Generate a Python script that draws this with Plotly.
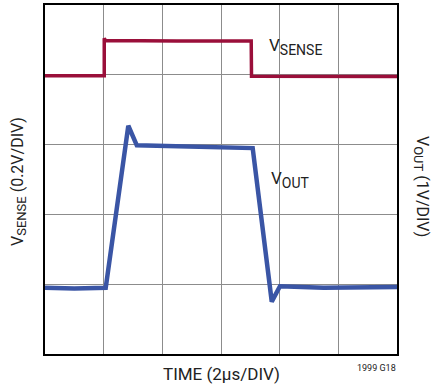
import plotly.graph_objects as go

# Time axis in microseconds (2 us/div, 6 divisions)
t_sense = [0.0, 2.02, 2.02, 2.06, 4.5, 7.03, 7.04, 9.0, 12.0]
v_sense = [0.797, 0.797, 0.905, 0.898, 0.897, 0.897, 0.796, 0.795, 0.795]

t_out = [0.0, 1.0, 2.07, 2.84, 3.13, 4.5, 6.0, 7.08, 7.73, 8.01, 9.5, 12.0]
v_out = [-0.05, -0.06, -0.05, 2.27, 1.99, 1.98, 1.97, 1.95, -0.25, -0.03, -0.05, -0.04]

x_range = [0, 12]
sense_range = [0, 1.0]   # 0.2 V/div, 5 div
out_range = [-1, 4]      # 1 V/div, 5 div

RED = "#9A0F3A"
BLUE = "#3A55A5"
FONT = "Roboto, Arial, sans-serif"
TXT = "#222"

W, H = 433, 389
L, R, T, B = 45, 36, 3, 35

fig = go.Figure()
fig.add_trace(go.Scatter(x=t_sense, y=v_sense, mode="lines",
                         line=dict(color=RED, width=3.5), yaxis="y"))
fig.add_trace(go.Scatter(x=t_out, y=v_out, mode="lines",
                         line=dict(color=BLUE, width=4.5), yaxis="y2"))

fig.update_layout(
    width=W, height=H,
    margin=dict(l=L, r=R, t=T, b=B),
    paper_bgcolor="white", plot_bgcolor="white",
    showlegend=False,
    font=dict(family=FONT, color=TXT),
    xaxis=dict(range=x_range, dtick=2, showticklabels=False, ticks="",
               showgrid=True, gridcolor="#8c8c8c", gridwidth=1,
               showline=True, linecolor="black", linewidth=2, mirror=True,
               zeroline=False),
    yaxis=dict(range=sense_range, dtick=0.2, showticklabels=False, ticks="",
               showgrid=True, gridcolor="#8c8c8c", gridwidth=1,
               showline=True, linecolor="black", linewidth=2, mirror=True,
               zeroline=False),
    yaxis2=dict(range=out_range, overlaying="y", side="right",
                showticklabels=False, ticks="", showgrid=False,
                zeroline=False, showline=False),
)

pw, ph = W - L - R, H - T - B

def px(x):
    return (x - L) / pw

def py(y):
    return (H - B - y) / ph

def sub(main, s, size):
    return f"{main}<sub><span style='font-size:{size}px'>{s}</span></sub>"

fig.add_annotation(text=sub("V", "SENSE", 14), x=px(267), y=py(45), xref="paper", yref="paper",
                   xanchor="left", yanchor="middle", showarrow=False,
                   font=dict(size=17, family=FONT, color=TXT))
fig.add_annotation(text=sub("V", "OUT", 14), x=px(269), y=py(179), xref="paper", yref="paper",
                   xanchor="left", yanchor="middle", showarrow=False,
                   font=dict(size=17, family=FONT, color=TXT))
fig.add_annotation(text=sub("V", "SENSE", 13) + " (0.2V/DIV)", x=px(19), y=py(181), xref="paper", yref="paper",
                   xanchor="center", yanchor="middle", textangle=-90, showarrow=False,
                   font=dict(size=16, family=FONT, color=TXT))
fig.add_annotation(text=sub("V", "OUT", 13) + " (1V/DIV)", x=px(421), y=py(185), xref="paper", yref="paper",
                   xanchor="center", yanchor="middle", textangle=90, showarrow=False,
                   font=dict(size=16, family=FONT, color=TXT))
fig.add_annotation(text="TIME (2µs/DIV)", x=px(221), y=py(374), xref="paper", yref="paper",
                   xanchor="center", yanchor="middle", showarrow=False,
                   font=dict(size=17, family=FONT, color=TXT))
fig.add_annotation(text="1999 G18", x=px(398), y=py(368), xref="paper", yref="paper",
                   xanchor="right", yanchor="middle", showarrow=False,
                   font=dict(size=9, family=FONT, color=TXT))

fig.write_html("out.html")
